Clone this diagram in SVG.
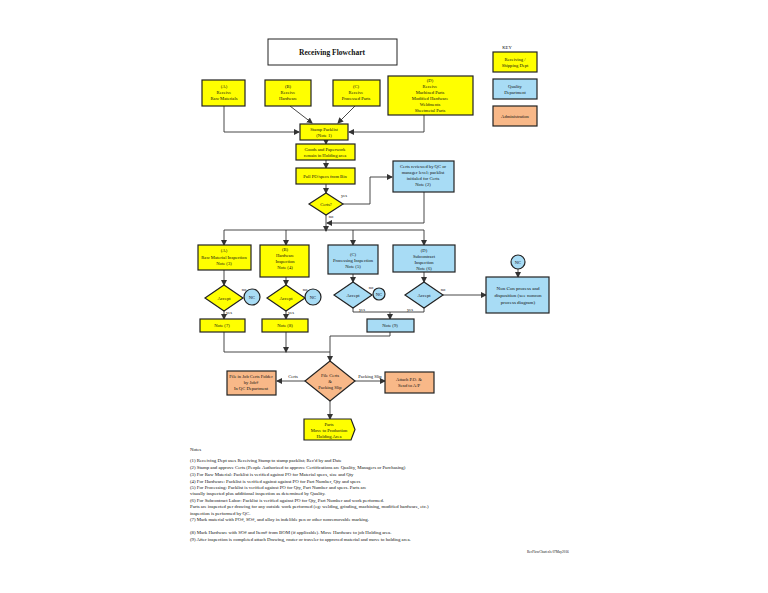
<svg xmlns="http://www.w3.org/2000/svg" width="768" height="593" viewBox="0 0 768 593">
<style>
text{font-family:"Liberation Serif",serif;fill:#111;text-anchor:middle;font-size:4.6px}
.y{fill:#ffff00;stroke:#222;stroke-width:1.2}
.b{fill:#a8dcf5;stroke:#222;stroke-width:1.2}
.o{fill:#f8b888;stroke:#222;stroke-width:1.2}
.w{fill:#fff;stroke:#222;stroke-width:1}
.c line,.c polyline{fill:none;stroke:#333;stroke-width:0.9;marker-end:url(#a)}
.n text{text-anchor:start;font-size:4.8px}
.l{font-size:3.6px}
</style>
<defs><marker id="a" markerWidth="6" markerHeight="6" refX="5" refY="3" orient="auto" markerUnits="userSpaceOnUse"><path d="M0,0L6,3L0,6z" fill="#333"/></marker></defs>
<rect width="768" height="593" fill="#fff"/>
<g id="title"><rect class="w" x="268" y="39" width="129" height="26"/><text x="332" y="55" style="font-size:7.5px;font-weight:bold">Receiving Flowchart</text></g>
<g id="key"><text x="507" y="49">KEY</text>
<rect class="y" x="493" y="52" width="44" height="20"/><text x="515" y="61">Receiving /</text><text x="515" y="67">Shipping Dept</text>
<rect class="b" x="493" y="79" width="44" height="20"/><text x="515" y="88">Quality</text><text x="515" y="94">Department</text>
<rect class="o" x="493" y="106" width="44" height="20"/><text x="515" y="118">Administration</text></g>
<g class="c" id="connectors">
<polyline points="224,106 224,132 299,132"/>
<line x1="290" y1="106" x2="312" y2="123"/>
<line x1="355" y1="106" x2="338" y2="123"/>
<polyline points="424,115 424,132 349,132"/>
<line x1="326" y1="140" x2="326" y2="144"/>
<line x1="326" y1="160" x2="326" y2="168"/>
<line x1="326" y1="184" x2="326" y2="193"/>
<polyline points="343,204 370,204 370,177 392,177"/>
<polyline points="424,192 424,223 327,223"/>
<line x1="326" y1="215" x2="326" y2="231"/>
<polyline points="224,230 424,230" style="marker-end:none"/>
<line x1="224" y1="230" x2="224" y2="245"/>
<line x1="286" y1="230" x2="286" y2="245"/>
<line x1="353" y1="230" x2="353" y2="245"/>
<line x1="424" y1="230" x2="424" y2="245"/>
<line x1="224" y1="270" x2="224" y2="285"/>
<line x1="286" y1="277" x2="286" y2="285"/>
<line x1="353" y1="274" x2="353" y2="282"/>
<line x1="424" y1="272" x2="424" y2="282"/>
<line x1="224" y1="311" x2="224" y2="319"/>
<line x1="286" y1="311" x2="286" y2="319"/>
<polyline points="353,308 353,312 390,312 390,319"/>
<polyline points="424,308 424,312 390,312" style="marker-end:none"/>
<line x1="443" y1="295" x2="486" y2="295"/>
<line x1="518" y1="269" x2="518" y2="277"/>
<polyline points="224,332 224,352 330,352" style="marker-end:none"/>
<line x1="286" y1="332" x2="286" y2="352"/>
<polyline points="390,332 390,336 330,336 330,361"/>
<line x1="305" y1="381" x2="277" y2="381"/>
<line x1="355" y1="381" x2="385" y2="381"/>
<line x1="330" y1="401" x2="330" y2="419"/>
</g>
<g class="l"><text x="344" y="197">yes</text><text x="331" y="218">no</text>
<text x="244" y="291">no</text><text x="229" y="314">yes</text><text x="305" y="291">no</text><text x="291" y="314">yes</text>
<text x="371" y="289">no</text><text x="362" y="311">yes</text><text x="443" y="291">no</text><text x="410" y="311">yes</text>
<text x="293" y="378">Certs</text><text x="370" y="378">Packing Slip</text></g>
<g id="recvA"><rect class="y" x="202" y="80" width="43" height="26"/><text x="224" y="88">(A)</text><text x="224" y="94">Receive</text><text x="224" y="100">Raw Materials</text></g>
<g id="recvB"><rect class="y" x="265" y="80" width="46" height="26"/><text x="288" y="88">(B)</text><text x="288" y="94">Receive</text><text x="288" y="100">Hardware</text></g>
<g id="recvC"><rect class="y" x="333" y="80" width="47" height="26"/><text x="356" y="88">(C)</text><text x="356" y="94">Receive</text><text x="356" y="100">Processed Parts</text></g>
<g id="recvD"><rect class="y" x="388" y="76" width="85" height="39"/><text x="430" y="82">(D)</text><text x="430" y="88">Receive</text><text x="430" y="94">Machined Parts</text><text x="430" y="100">Modified Hardware</text><text x="430" y="106">Weldments</text><text x="430" y="112">Sheetmetal Parts</text></g>
<g id="stamp"><rect class="y" x="300" y="124" width="48" height="16"/><text x="324" y="131">Stamp Packlist</text><text x="324" y="137">(Note 1)</text></g>
<g id="goods"><rect class="y" x="296" y="144" width="59" height="16"/><text x="325" y="151">Goods and Paperwork</text><text x="325" y="157">remain in Holding area</text></g>
<g id="pull"><rect class="y" x="296" y="168" width="59" height="16"/><text x="325" y="178">Pull PO/specs from Bin</text></g>
<g id="certs"><path class="y" d="M309,204L326,193L343,204L326,215z"/><text x="326" y="206">Certs?</text></g>
<g id="certrev"><rect class="b" x="393" y="161" width="61" height="31"/><text x="423" y="168">Certs reviewed by QC or</text><text x="423" y="174">manager level; packlist</text><text x="423" y="180">initialed for Certs</text><text x="423" y="186">Note (2)</text></g>
<g id="inspA"><rect class="y" x="198" y="245" width="53" height="25"/><text x="224" y="252">(A)</text><text x="224" y="259">Raw Material Inspection</text><text x="224" y="265">Note (3)</text></g>
<g id="inspB"><rect class="y" x="260" y="245" width="49" height="32"/><text x="285" y="251">(B)</text><text x="285" y="257">Hardware</text><text x="285" y="263">Inspection</text><text x="285" y="269">Note (4)</text></g>
<g id="inspC"><rect class="b" x="328" y="245" width="50" height="29"/><text x="353" y="256">(C)</text><text x="353" y="262">Processing Inspection</text><text x="353" y="268">Note (5)</text></g>
<g id="inspD"><rect class="b" x="393" y="245" width="62" height="27"/><text x="424" y="252">(D)</text><text x="424" y="258">Subcontract</text><text x="424" y="264">Inspection</text><text x="424" y="270">Note (6)</text></g>
<g id="accA"><path class="y" d="M205,298L224,285L243,298L224,311z"/><text x="224" y="300">Accept</text></g>
<g id="accB"><path class="y" d="M267,298L286,285L305,298L286,311z"/><text x="286" y="300">Accept</text></g>
<g id="accC"><path class="b" d="M334,295L353,282L372,295L353,308z"/><text x="353" y="297">Accept</text></g>
<g id="accD"><path class="b" d="M405,295L424,282L443,295L424,308z"/><text x="424" y="297">Accept</text></g>
<g id="ncA"><circle class="b" cx="252" cy="297" r="8"/><text x="252" y="299">NC</text></g>
<g id="ncB"><circle class="b" cx="313" cy="297" r="8"/><text x="313" y="299">NC</text></g>
<g id="ncC"><circle class="b" cx="379" cy="294" r="6"/><text x="379" y="296">NC</text></g>
<g id="ncD"><circle class="b" cx="518" cy="262" r="7"/><text x="518" y="264">NC</text></g>
<g id="noncon"><rect class="b" x="486" y="277" width="63" height="36"/><text x="518" y="290" style="font-size:5px">Non Con process and</text><text x="518" y="297" style="font-size:5px">disposition (see noncon</text><text x="518" y="304" style="font-size:5px">process diagram)</text></g>
<g id="note7"><rect class="y" x="200" y="319" width="45" height="13"/><text x="222" y="327">Note (7)</text></g>
<g id="note8"><rect class="y" x="262" y="319" width="46" height="13"/><text x="285" y="327">Note (8)</text></g>
<g id="note9"><rect class="b" x="367" y="319" width="47" height="13"/><text x="390" y="327">Note (9)</text></g>
<g id="file"><path class="o" d="M305,381L330,361L355,381L330,401z"/><text x="330" y="377">File Certs</text><text x="330" y="383">&amp;</text><text x="330" y="389">Packing Slip</text></g>
<g id="jobfolder"><rect class="o" x="227" y="371" width="49" height="24"/><text x="251" y="378">File in Job Certs Folder</text><text x="251" y="384">by Job#</text><text x="251" y="390">In QC Department</text></g>
<g id="attach"><rect class="o" x="385" y="372" width="49" height="21"/><text x="409" y="381">Attach P.O. &amp;</text><text x="409" y="387">Send to A/P</text></g>
<g id="parts"><path class="y" d="M304,419L351,419L355,429.5L351,440L304,440z"/><text x="329" y="426">Parts</text><text x="329" y="432">Move to Production</text><text x="329" y="438">Holding Area</text></g>
<g class="n" id="notes">
<text x="190" y="451">Notes</text>
<text x="190" y="462">(1) Receiving Dept uses Receiving Stamp to stamp packlist; Rec'd by and Date</text>
<text x="190" y="469">(2) Stamp and approve Certs (People Authorized to approve  Certifications are Quality, Managers or Purchasing)</text>
<text x="190" y="476">(3) For Raw Material: Packlist is verified against PO for Material specs, size and Qty</text>
<text x="190" y="483">(4) For Hardware: Packlist is verified against against PO for Part Number, Qty and specs</text>
<text x="190" y="489">(5) For Processing: Packlist is verified against PO for Qty, Part Number and specs.  Parts are</text>
<text x="190" y="495">      visually inspected plus additional inspection as determined by Quality.</text>
<text x="190" y="502">(6) For Subcontract Labor: Packlist is verified against PO for Qty, Part Number and work performed.</text>
<text x="190" y="508">      Parts are inspected per drawing for any outside work performed (eg: welding, grinding, machining, modified hardware, etc.)</text>
<text x="190" y="515">      inspection is performed by QC.</text>
<text x="190" y="521">(7) Mark material with PO#, SO#, and alloy in indelible pen or other nonremovable marking.</text>
<text x="190" y="534">(8) Mark Hardware with SO# and Item# from BOM (if applicable).  Move Hardware to job Holding area.</text>
<text x="190" y="541">(9) After inspection is completed attach Drawing, router or traveler to approved material and move to holding area.</text>
<text x="527" y="553" style="font-size:3.4px">RecFlowChart.xls 07May2016</text>
</g>
</svg>
